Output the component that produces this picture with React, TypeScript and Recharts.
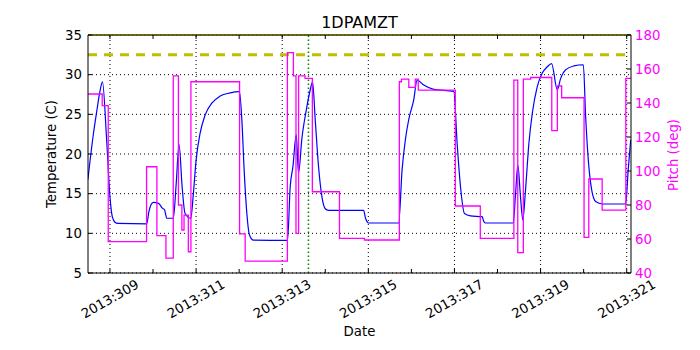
import { ComposedChart, Line, XAxis, YAxis, CartesianGrid, ReferenceLine } from 'recharts';

// temperature samples (day of year, degC)
const TEMP_DAYS = [
  308.488, 308.612, 308.691, 308.767, 308.826, 308.923, 309.0, 309.058, 309.116, 309.186,
  309.853, 309.907, 309.953, 310.007, 310.116, 310.163, 310.209, 310.267, 310.319, 310.472,
  310.535, 310.605, 310.674, 310.744, 310.877, 310.937, 311.0, 311.093, 311.209, 311.365,
  311.558, 311.791, 312.007, 312.063, 312.116, 312.179, 312.24, 312.333, 313.123, 313.186,
  313.249, 313.326, 313.379, 313.458, 313.558, 313.651, 313.705, 313.767, 313.844, 313.923,
  314.0, 314.077, 314.891, 314.93, 315.007, 315.705, 315.784, 315.86, 315.937, 316.053,
  316.133, 316.286, 316.519, 316.984, 317.063, 317.14, 317.233, 317.372, 317.644, 317.674,
  317.721, 318.365, 318.419, 318.472, 318.535, 318.588, 318.651, 318.728, 318.807, 318.923,
  319.04, 319.156, 319.256, 319.388, 319.465, 319.581, 319.774, 319.993, 320.047, 320.109,
  320.186, 320.279, 320.435, 320.977, 321.035, 321.093,
];
const TEMP = [
  16.8, 22.4, 25.3, 27.9, 29.1, 21.8, 14.6, 12.0, 11.4, 11.25,
  11.2, 12.8, 13.6, 13.9, 13.8, 13.6, 13.2, 13.0, 11.9, 11.9,
  16.0, 21.2, 16.0, 12.5, 11.9, 15.0, 19.2, 22.6, 24.9, 26.4,
  27.3, 27.7, 27.85, 24.3, 18.0, 12.5, 9.8, 9.15, 9.1, 15.9,
  18.4, 22.4, 17.6, 22.0, 25.5, 28.1, 29.1, 24.3, 18.4, 14.6,
  13.1, 12.9, 12.9, 12.0, 11.3, 11.3, 18.0, 21.8, 24.3, 26.8,
  29.3, 28.7, 28.15, 27.9, 21.3, 15.9, 12.5, 12.2, 12.1, 11.6,
  11.3, 11.3, 15.0, 18.6, 14.5, 11.7, 15.5, 21.3, 25.1, 28.5,
  30.2, 31.0, 31.4, 28.1, 29.5, 30.6, 31.1, 31.25, 24.7, 19.2,
  15.5, 14.0, 13.7, 13.7, 18.0, 21.8,
];

// pitch steps (day the value starts, deg)
const PITCH_DAYS = [
  308.49, 308.82, 308.96, 309.85, 310.09, 310.3, 310.47, 310.59, 310.67, 310.72,
  310.82, 310.88, 312.01, 312.14, 313.12, 313.26, 313.32, 313.38, 313.53, 313.7,
  314.33, 314.91, 315.72, 315.77, 315.94, 316.09, 316.16, 317.02, 317.6, 318.38,
  318.47, 318.6, 318.77, 319.26, 319.39, 319.49, 320.01, 320.12, 320.43, 320.98,
  321.12,
];
const PITCH = [
  145.3, 138.4, 58.5, 102.5, 62.0, 48.8, 156.0, 80.0, 65.3, 74.0,
  52.5, 152.5, 63.0, 47.0, 169.6, 156.0, 63.3, 156.0, 154.5, 87.8,
  60.4, 59.4, 152.5, 154.0, 149.2, 154.0, 147.6, 79.4, 60.4, 153.5,
  52.0, 154.0, 155.0, 123.7, 150.0, 143.1, 61.0, 95.3, 77.0, 154.5,
  154.5,
];

const X_TICKS = [309, 310, 311, 312, 313, 314, 315, 316, 317, 318, 319, 320, 321];
const X_LABELS = [309, 311, 313, 315, 317, 319, 321];
const TEMP_TICKS = [5, 10, 15, 20, 25, 30, 35];
const PITCH_TICKS = [40, 60, 80, 100, 120, 140, 160, 180];
const TEMP_LIMIT = 32.5;
const TEMP_PLANNING = 35;
const NOW_DAY = 313.61;

const tempData = TEMP_DAYS.map((day, i) => ({ day, temp: TEMP[i] }));
const pitchData = PITCH_DAYS.map((day, i) => ({ day, pitch: PITCH[i] }));

const FONT = 'DejaVu Sans';
const FS = 13.3;

function BottomTick(props: any) {
  const { x, y, payload } = props;
  const lab = X_LABELS.includes(payload.value);
  const ty = y + 26;
  return (
    <g>
      <line x1={x} y1={y} x2={x} y2={y - 4} stroke="#000" />
      {lab && (
        <text x={x} y={ty} textAnchor="middle" dominantBaseline="central" fontFamily={FONT} fontSize={FS}
          fill="#000" transform={`rotate(-30 ${x} ${ty})`}>{`2013:${payload.value}`}</text>
      )}
    </g>
  );
}

function TopTick(props: any) {
  const { x, y } = props;
  return <line x1={x} y1={y} x2={x} y2={y + 4} stroke="#000" />;
}

function LeftTick(props: any) {
  const { x, y, payload } = props;
  return (
    <g>
      <line x1={x} y1={y} x2={x + 4} y2={y} stroke="#000" />
      <text x={x - 6} y={y} textAnchor="end" dominantBaseline="central" fontFamily={FONT} fontSize={FS} fill="#000">
        {payload.value}
      </text>
    </g>
  );
}

function RightTick(props: any) {
  const { x, y, payload } = props;
  return (
    <g>
      <line x1={x} y1={y} x2={x - 4} y2={y} stroke="#000" />
      <text x={x + 4} y={y} textAnchor="start" dominantBaseline="central" fontFamily={FONT} fontSize={FS} fill="#ff00ff">
        {payload.value}
      </text>
    </g>
  );
}

export default function App() {
  return (
    <div style={{ position: 'absolute', left: 0, top: 0, width: 700, height: 350, background: '#fff' }}>
      <ComposedChart width={700} height={350} margin={{ top: 30, right: 29, bottom: 37, left: 48 }}>
        <CartesianGrid yAxisId="temp" xAxisId="date" vertical={false} stroke="#000" strokeDasharray="1 3" />
        {X_LABELS.map((d) => (
          <ReferenceLine key={d} xAxisId="date" yAxisId="temp" x={d} stroke="#000" strokeDasharray="1 3" />
        ))}
        <XAxis xAxisId="date" type="number" dataKey="day" domain={[308.49, 321.1]} allowDataOverflow
          ticks={X_TICKS} interval={0} height={40} tickSize={0} tickMargin={0} tickLine={false}
          axisLine={{ stroke: '#000' }} tick={BottomTick} />
        <XAxis xAxisId="top" orientation="top" type="number" dataKey="day" domain={[308.49, 321.1]} allowDataOverflow
          ticks={X_TICKS} interval={0} height={5} tickSize={0} tickMargin={0} tickLine={false}
          axisLine={{ stroke: '#000' }} tick={TopTick} />
        <YAxis yAxisId="temp" type="number" domain={[5, 35]} ticks={TEMP_TICKS} interval={0} width={40}
          tickSize={0} tickMargin={0} tickLine={false} axisLine={{ stroke: '#000' }} tick={LeftTick} allowDataOverflow />
        <YAxis yAxisId="pitch" orientation="right" type="number" domain={[40, 180]} ticks={PITCH_TICKS} interval={0}
          width={40} tickSize={0} tickMargin={0} tickLine={false} axisLine={{ stroke: '#000' }} tick={RightTick}
          allowDataOverflow />
        <ReferenceLine xAxisId="date" yAxisId="temp" y={TEMP_LIMIT} stroke="#bfbf00" strokeWidth={3} strokeDasharray="9 7" />
        <ReferenceLine xAxisId="date" yAxisId="temp" y={TEMP_PLANNING} stroke="#bfbf00" strokeWidth={1.5} />
        <ReferenceLine xAxisId="date" yAxisId="temp" x={NOW_DAY} stroke="#008000" strokeWidth={1.5} strokeDasharray="1.5 2.5" />
        <Line xAxisId="date" yAxisId="temp" data={tempData} dataKey="temp" type="monotone" stroke="#0000ff"
          strokeWidth={1.2} dot={false} isAnimationActive={false} />
        <Line xAxisId="date" yAxisId="pitch" data={pitchData} dataKey="pitch" type="stepAfter" stroke="#ff00ff"
          strokeWidth={1.3} dot={false} isAnimationActive={false} />
      </ComposedChart>
      <svg width={700} height={350} style={{ position: 'absolute', left: 0, top: 0, pointerEvents: 'none' }}>
        <text x={359.5} y={28} textAnchor="middle" fontFamily={FONT} fontSize={16} fill="#000">1DPAMZT</text>
        <text x={51} y={154} textAnchor="middle" dominantBaseline="central" fontFamily={FONT} fontSize={FS}
          fill="#000" transform="rotate(-90 51 154)">Temperature (C)</text>
        <text x={673} y={155} textAnchor="middle" dominantBaseline="central" fontFamily={FONT} fontSize={FS}
          fill="#ff00ff" transform="rotate(-90 673 155)">Pitch (deg)</text>
        <text x={359.5} y={331} textAnchor="middle" dominantBaseline="central" fontFamily={FONT} fontSize={FS}
          fill="#000">Date</text>
      </svg>
    </div>
  );
}
